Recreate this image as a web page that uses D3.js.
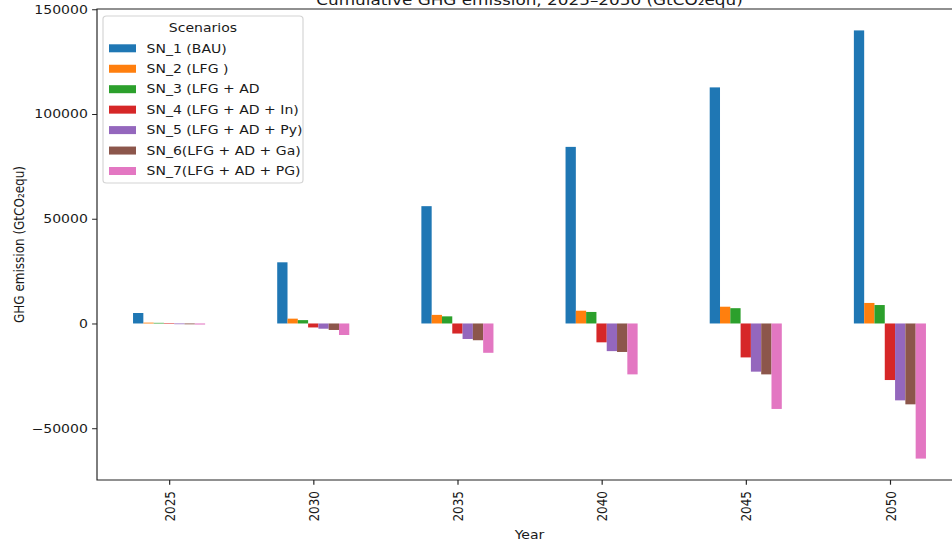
<!DOCTYPE html>
<html>
<head>
<meta charset="utf-8">
<script src="https://cdn.jsdelivr.net/npm/d3@7"></script>
<style>
  html, body { margin: 0; padding: 0; background: #fff; overflow: hidden; }
  text { font-family: "DejaVu Sans", sans-serif; fill: #1a1a1a; }
</style>
</head>
<body>
<svg id="chart" width="952" height="541"></svg>
<script>
// ---------- data ----------
const years = ["2025", "2030", "2035", "2040", "2045", "2050"];
const seriesNames = [
  "SN_1 (BAU)",
  "SN_2 (LFG )",
  "SN_3 (LFG + AD",
  "SN_4 (LFG + AD + In)",
  "SN_5 (LFG + AD + Py)",
  "SN_6(LFG + AD + Ga)",
  "SN_7(LFG + AD + PG)"
];
const sn1 = [5000, 29200, 56000, 84300, 112700, 139900];
const sn2 = [400, 2300, 4100, 6100, 8000, 9800];
const sn3 = [300, 1600, 3400, 5500, 7300, 8800];
const sn4 = [-250, -1900, -4800, -9000, -16200, -27000];
const sn5 = [-350, -2500, -7400, -13200, -23000, -36700];
const sn6 = [-400, -3100, -8000, -13600, -24300, -38600];
const sn7 = [-500, -5500, -14000, -24300, -40800, -64500];
const seriesValues = [sn1, sn2, sn3, sn4, sn5, sn6, sn7];
const colors = ["#1f77b4", "#ff7f0e", "#2ca02c", "#d62728", "#9467bd", "#8c564b", "#e377c2"];
const yTicks = [-50000, 0, 50000, 100000, 150000];
const titleText = "Cumulative GHG emission, 2025–2050 (GtCO₂equ)";
const yLabel = "GHG emission (GtCO₂equ)";
const xLabel = "Year";
const legendTitle = "Scenarios";

// ---------- layout ----------
const sx = 1.17;                 // horizontal stretch of the reference picture
const svg = d3.select("#chart");
const g = svg.append("g").attr("transform", `scale(${sx},1)`);

const plotL = 97 / sx, plotR = 962 / sx, plotT = 9, plotB = 480;

const allVals = seriesValues.flat();
const vmin = Math.min(0, d3.min(allVals)), vmax = Math.max(0, d3.max(allVals));
const pad = (vmax - vmin) * 0.05;

const x = d3.scalePoint().domain(years).range([plotL, plotR]).padding(0.5);
const y = d3.scaleLinear().domain([vmin - pad, vmax + pad]).range([plotB, plotT]);

const step = x.step();
const groupW = step * 0.5;
const barW = groupW / seriesNames.length;

// ---------- bars ----------
seriesValues.forEach((vals, si) => {
  g.append("g")
    .selectAll("rect")
    .data(vals)
    .join("rect")
    .attr("x", (d, i) => x(years[i]) - groupW / 2 + si * barW)
    .attr("width", barW)
    .attr("y", d => y(Math.max(0, d)))
    .attr("height", d => Math.abs(y(d) - y(0)))
    .attr("fill", colors[si]);
});

// ---------- axes ----------
const yAxis = g.append("g")
  .attr("transform", `translate(${plotL},0)`)
  .call(d3.axisLeft(y).tickValues(yTicks)
    .tickFormat(d => d < 0 ? "−" + Math.abs(d) : String(d))
    .tickSize(4.2).tickPadding(3.6).tickSizeOuter(0));
yAxis.select(".domain").remove();
yAxis.selectAll("line").attr("stroke", "#222");
yAxis.selectAll("text").style("font-size", "12px").attr("fill", "#1a1a1a");

const xAxis = g.append("g")
  .attr("transform", `translate(0,${plotB})`)
  .call(d3.axisBottom(x).tickSize(4.7).tickSizeOuter(0));
xAxis.select(".domain").remove();
xAxis.selectAll("line").attr("stroke", "#222");
xAxis.selectAll("text")
  .style("font-size", "12px")
  .attr("fill", "#1a1a1a")
  .attr("y", 0)
  .attr("x", -11)
  .attr("dy", "0.36em")
  .attr("transform", "rotate(-90)")
  .style("text-anchor", "end");

// spines
g.append("rect")
  .attr("x", plotL).attr("y", plotT)
  .attr("width", plotR - plotL).attr("height", plotB - plotT)
  .attr("fill", "none").attr("stroke", "#222").attr("stroke-width", 1);

// ---------- labels ----------
g.append("text")
  .attr("x", (plotL + plotR) / 2).attr("y", 5)
  .attr("text-anchor", "middle")
  .style("font-size", "14.4px")
  .text(titleText);

g.append("text")
  .attr("transform", `translate(${20.5},${(plotT + plotB) / 2}) rotate(-90)`)
  .attr("text-anchor", "middle")
  .style("font-size", "12px")
  .text(yLabel);

g.append("text")
  .attr("x", (plotL + plotR) / 2).attr("y", 539)
  .attr("text-anchor", "middle")
  .style("font-size", "12px")
  .text(xLabel);

// ---------- legend ----------
const lg = g.append("g");
const lx = 103 / sx, lw = 200 / sx, ly = 16, lh = 167;
lg.append("rect")
  .attr("x", lx).attr("y", ly).attr("width", lw).attr("height", lh)
  .attr("rx", 3).attr("ry", 3)
  .attr("fill", "#fff").attr("fill-opacity", 0.85)
  .attr("stroke", "#d4d4d4").attr("stroke-width", 1);
lg.append("text")
  .attr("x", lx + lw / 2).attr("y", 32)
  .attr("text-anchor", "middle")
  .style("font-size", "12px")
  .text(legendTitle);
seriesNames.forEach((name, i) => {
  const cy = 48.3 + i * 20.45;
  lg.append("rect")
    .attr("x", 109 / sx).attr("y", cy - 4)
    .attr("width", 27 / sx).attr("height", 8)
    .attr("fill", colors[i]);
  lg.append("text")
    .attr("x", 146.5 / sx).attr("y", cy + 4.3)
    .style("font-size", "12px")
    .text(name);
});
</script>
</body>
</html>
